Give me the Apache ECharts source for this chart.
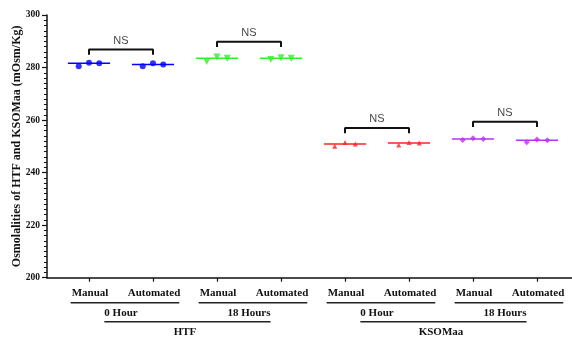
<!DOCTYPE html>
<html><head><meta charset="utf-8">
<script src="https://cdn.jsdelivr.net/npm/echarts@6/dist/echarts.min.js"></script>
<style>html,body{margin:0;padding:0;background:#fff}#c{width:572px;height:339px}</style>
</head><body><div id="c"></div>
<script>
// ---- data ----
var groupLabels = ['Manual','Automated','Manual','Automated','Manual','Automated','Manual','Automated'];
var timeLabels = ['0 Hour','18 Hours','0 Hour','18 Hours'];
var mediumLabels = ['HTF','KSOMaa'];
var htf0Manual = [280.5, 281.8, 281.6];
var htf0Auto = [280.5, 281.6, 281.2];
var htf18Manual = [282.3, 284.0, 283.5];
var htf18Auto = [283.1, 283.7, 283.5];
var ks0Manual = [250.0, 251.5, 250.9];
var ks0Auto = [250.5, 251.5, 251.3];
var ks18Manual = [252.4, 253.1, 252.8];
var ks18Auto = [251.6, 252.6, 252.3];
var bracketTops = [286.9, 289.8, 257.0, 259.4];
var bracketLabels = ['NS','NS','NS','NS'];
var yTicks = [200, 220, 240, 260, 280, 300];

var groups = [htf0Manual, htf0Auto, htf18Manual, htf18Auto, ks0Manual, ks0Auto, ks18Manual, ks18Auto];
var colors = ['#0000ff','#0000ff','#33ee33','#33ee33','#ff2222','#ff2222','#bb33ee','#bb33ee'];
var symbols = ['circle','circle','triangle','triangle','triangle','triangle','diamond','diamond'];
var symRot = [0,0,180,180,0,0,0,0];
var symSize = [6,6,7,7,5,5,6,6];
var jitter = [-0.16, 0, 0.16];
var halfW = 0.33;
var legDrop = 2;

function median(a){var s=a.slice().sort(function(x,y){return x-y;});return s[1];}

var series = [];
groups.forEach(function(vals, i){
  var pos = i + 1;
  var m = median(vals);
  series.push({type:'line', data:[[pos-halfW,m],[pos+halfW,m]], symbol:'none',
    lineStyle:{color:colors[i], width:1.5}, silent:true, z:2});
  series.push({type:'scatter', data: vals.map(function(v,k){return [pos+jitter[k], v];}),
    symbol:symbols[i], symbolRotate:symRot[i], symbolSize:symSize[i],
    itemStyle:{color:colors[i]}, z:3});
});
bracketTops.forEach(function(t, j){
  var a = 2*j+1, b = 2*j+2;
  series.push({type:'line', data:[[a,t-legDrop],[a,t],[b,t],[b,t-legDrop]], symbol:'none',
    lineStyle:{color:'#111', width:2}, silent:true, z:2});
  series.push({type:'scatter', data:[[(a+b)/2, t]], symbolSize:0,
    label:{show:true, position:'top', distance:3, formatter:bracketLabels[j],
      fontFamily:'Liberation Sans', fontSize:11, color:'#111'}});
});

var chart = echarts.init(document.getElementById('c'));
var serif = 'Liberation Serif';
chart.setOption({
  animation:false,
  grid:{left:47, top:15, right:0, bottom:61.3, containLabel:false, outerBoundsMode:'none'},
  xAxis:{type:'value', min:0.344, max:8.547, splitLine:{show:false},
    axisLine:{lineStyle:{color:'#111', width:1.5}},
    axisTick:{show:true, customValues:[1,2,3,4,5,6,7,8], length:4, lineStyle:{color:'#111', width:1.2}},
    axisLabel:{show:false}},
  yAxis:{type:'value', min:200, max:300, interval:20, splitLine:{show:false},
    name:'Osmolalities of HTF and KSOMaa (mOsm/Kg)', nameLocation:'middle', nameGap:24,
    nameMoveOverlap:false,
    nameTextStyle:{fontFamily:serif, fontWeight:'bold', fontSize:12, color:'#111'},
    axisLine:{show:true, lineStyle:{color:'#111', width:1.5}},
    axisTick:{length:5, lineStyle:{color:'#111', width:1.2}},
    minorTick:{show:true, splitNumber:10, length:3, lineStyle:{color:'#111', width:1}},
    axisLabel:{fontFamily:serif, fontWeight:'bold', fontSize:9.5, color:'#111', margin:7,
      customValues: yTicks}},
  series: series
});

// multi-level category labels placed through the axis scale
var ctx = document.createElement('canvas').getContext('2d');
function tw(s){ctx.font='bold 11px "Liberation Serif"';return ctx.measureText(s).width;}
var y0 = chart.convertToPixel({gridIndex:0},[1,200])[1];
function px(v){return chart.convertToPixel({gridIndex:0},[v,200])[0];}
var els = [];
function txt(x,y,s){els.push({type:'text', x:x, y:y, style:{text:s, fill:'#111',
  font:'bold 11px "Liberation Serif"', textAlign:'center', textVerticalAlign:'middle'}});}
function ln(x1,x2,y){els.push({type:'line', shape:{x1:x1,y1:y,x2:x2,y2:y}, style:{stroke:'#222', lineWidth:1.5}});}
groupLabels.forEach(function(s,i){ txt(px(i+1)+1, y0+15.5, s); });
for (var p=0;p<4;p++){
  var a=px(2*p+1), b=px(2*p+2);
  ln(a-tw(groupLabels[2*p])/2, b+tw(groupLabels[2*p+1])/2, y0+25);
  txt((a+b)/2, y0+35.5, timeLabels[p]);
}
for (var q=0;q<2;q++){
  var c1=(px(4*q+1)+px(4*q+2))/2, c2=(px(4*q+3)+px(4*q+4))/2;
  ln(c1-tw(timeLabels[2*q])/2, c2+tw(timeLabels[2*q+1])/2, y0+44);
  txt((c1+c2)/2, y0+54, mediumLabels[q]);
}
chart.setOption({graphic:{elements:els}});
</script>
</body></html>
